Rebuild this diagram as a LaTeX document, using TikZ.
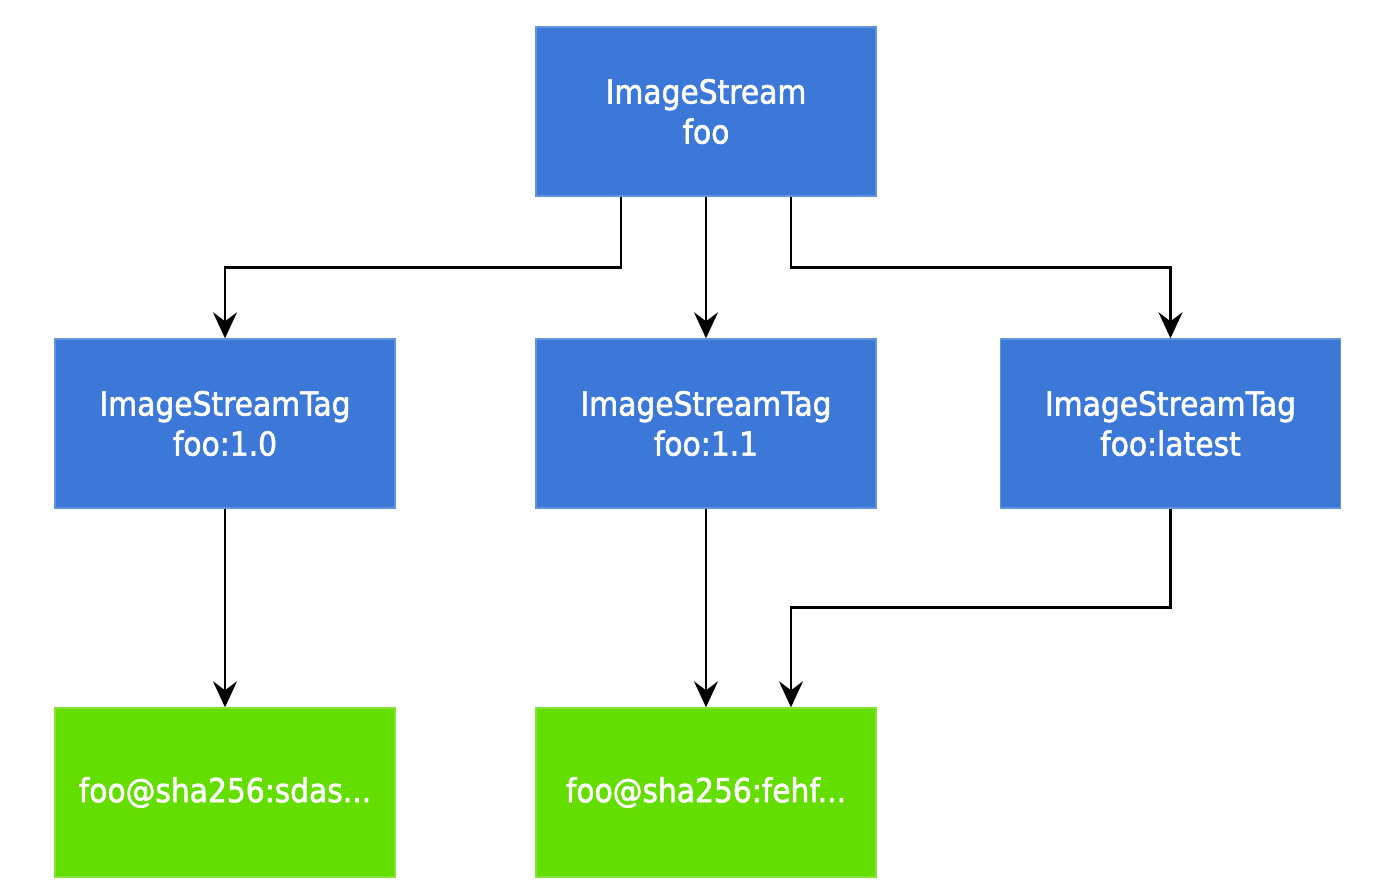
\documentclass[tikz,border=0pt]{standalone}
\usepackage{fontspec}
\setmainfont{DejaVu Sans}[FakeStretch=0.9, FakeBold=1.8]
\usetikzlibrary{arrows.meta}
\definecolor{boxblue}{HTML}{3C78D8}
\definecolor{boxgreen}{HTML}{64DD00}
\tikzset{
  bluebox/.style={fill=boxblue, draw=boxblue!80!white, line width=0.4pt, minimum width=3.4cm, minimum height=1.69cm, inner sep=0pt, text=white, align=center, font=\fontsize{9.4pt}{11.4pt}\selectfont},
  greenbox/.style={bluebox, fill=boxgreen, draw=boxgreen!80!white},
  arr/.style={line width=0.75pt, -{Stealth[length=0.26cm, width=0.24cm, inset=0.09cm]}}
}
\begin{document}
\begin{tikzpicture}
\useasboundingbox (0,0) rectangle (13.96,-8.89);
\fill[white] (0,0) rectangle (13.96,-8.89);
\node[bluebox] (top) at (7.06,-1.115) {ImageStream\\foo};
\node[bluebox] (ml) at (2.25,-4.235) {ImageStreamTag\\foo:1.0};
\node[bluebox] (mm) at (7.06,-4.235) {ImageStreamTag\\foo:1.1};
\node[bluebox] (mr) at (11.705,-4.235) {ImageStreamTag\\foo:latest};
\node[greenbox] (bl) at (2.25,-7.925) {foo@sha256:sdas...};
\node[greenbox] (bm) at (7.06,-7.925) {foo@sha256:fehf...};
\draw[arr] ([xshift=-0.85cm]top.south) -- ++(0,-0.71) -| (ml.north);
\draw[arr] (top.south) -- (mm.north);
\draw[arr] ([xshift=0.85cm]top.south) -- ++(0,-0.71) -| (mr.north);
\draw[arr] (ml.south) -- (bl.north);
\draw[arr] (mm.south) -- (bm.north);
\draw[arr] (mr.south) -- ++(0,-0.99) -| ([xshift=0.85cm]bm.north);
\end{tikzpicture}
\end{document}
